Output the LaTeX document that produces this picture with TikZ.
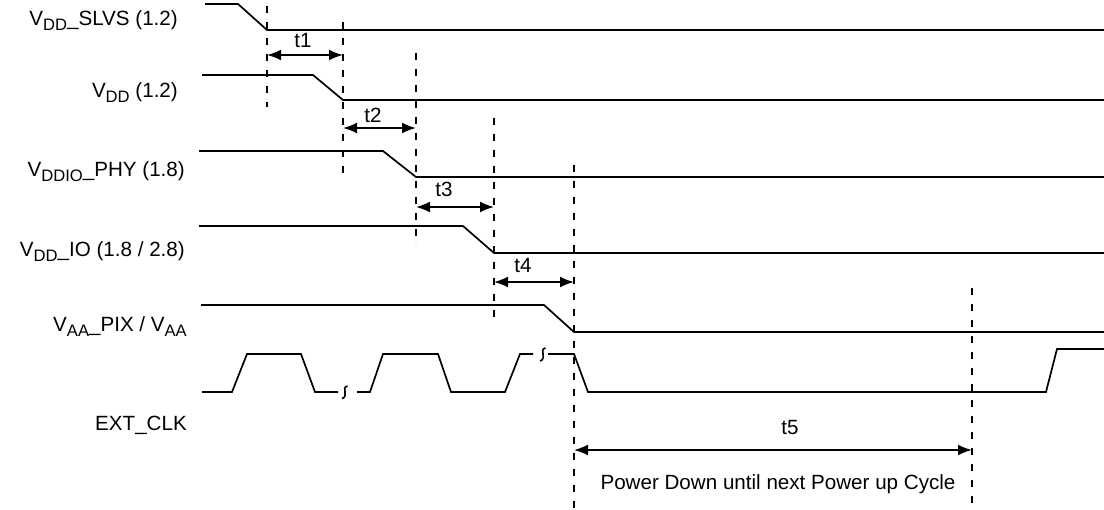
\documentclass[tikz,border=0pt]{standalone}
\usepackage{fontspec}
\setmainfont{Liberation Sans}
\usetikzlibrary{arrows.meta}
\newcommand\lsub[1]{\raisebox{-5pt}{\fontsize{16.6}{18}\selectfont #1}}
\begin{document}
\begin{tikzpicture}[x=1pt,y=-1pt,
  sig/.style={line width=1.7pt, line join=miter},
  guide/.style={line width=1.7pt, dash pattern=on 7pt off 9pt},
  span/.style={line width=1.8pt, {Latex[length=14pt,width=11pt]}-{Latex[length=14pt,width=11pt]}},
  lbl/.style={font=\fontsize{20.6}{24}\selectfont, inner sep=0pt, anchor=base east},
  tlbl/.style={font=\fontsize{20.6}{24}\selectfont, inner sep=0pt, anchor=base},
  brk/.style={line width=1.6pt}]
\useasboundingbox (0,0) rectangle (1104,510);
\fill[white] (0,0) rectangle (1104,510);

% labels
\node[lbl] (l1) at (178,26) {V\lsub{DD}\_SLVS (1.2)};
\node[lbl] (l2) at (178,98) {V\lsub{DD} (1.2)};
\node[lbl] (l3) at (185,177) {V\lsub{DDIO}\_PHY (1.8)};
\node[lbl] (l4) at (185,257) {V\lsub{DD}\_IO (1.8 / 2.8)};
\node[lbl] (l5) at (187,332) {V\lsub{AA}\_PIX / V\lsub{AA}};
\node[lbl] (l6) at (187,431) {EXT\_CLK};

% signals
\draw[sig] (205,4) -- (238,4) -- (267,30) -- (1104,30);
\draw[sig] (202,75) -- (313,75) -- (343,100) -- (1104,100);
\draw[sig] (199,151) -- (383,151) -- (416,177) -- (1104,177);
\draw[sig] (199,226) -- (463,226) -- (494,253) -- (1104,253);
\draw[sig] (201,305) -- (544,305) -- (574,332) -- (1104,332);

% clock
\draw[sig] (202,392) -- (232,392) -- (247,354) -- (301,354) -- (315,392) -- (338,392);
\draw[sig] (357,392) -- (370,392) -- (383,354) -- (438,354) -- (451,392) -- (505,392) -- (520,354) -- (533,354);
\draw[sig] (548,354) -- (574,354) -- (588,392) -- (1046,392) -- (1057,349) -- (1104,349);
\draw[brk] (342,398.5) .. controls (345.5,398) and (345.5,394) .. (345,392) .. controls (344.5,390) and (344,386.5) .. (347.5,386);
\draw[brk] (540,361) .. controls (543.5,360.5) and (543.5,356) .. (543,354) .. controls (542.5,352) and (542,348.5) .. (545.5,348);

% guide lines
\coordinate (g1a) at (267,6);   \coordinate (g1b) at (267,107);
\coordinate (g2a) at (343,22);  \coordinate (g2b) at (343,180);
\coordinate (g3a) at (416,53);  \coordinate (g3b) at (416,245);
\coordinate (g4a) at (494,118); \coordinate (g4b) at (494,325);
\coordinate (g5a) at (574,165); \coordinate (g5b) at (574,510);
\coordinate (g6a) at (972,288); \coordinate (g6b) at (972,510);
\draw[guide] (g1a) -- (g1b);
\draw[guide] (g2a) -- (g2b);
\draw[guide] (g3a) -- (g3b);
\draw[guide] (g4a) -- (g4b);
\draw[guide] (g5a) -- (g5b);
\draw[guide] (g6a) -- (g6b);

% spans
\coordinate (a1) at (267,55);  \coordinate (b1) at (343,55);
\coordinate (a2) at (343,128); \coordinate (b2) at (416,128);
\coordinate (a3) at (416,207); \coordinate (b3) at (494,207);
\coordinate (a4) at (494,282); \coordinate (b4) at (574,282);
\coordinate (a5) at (574,450); \coordinate (b5) at (972,450);
\draw[span] (a1) -- (b1);
\draw[span] (a2) -- (b2);
\draw[span] (a3) -- (b3);
\draw[span] (a4) -- (b4);
\draw[span] (a5) -- (b5);

\node[tlbl] (t1) at (303,48) {t1};
\node[tlbl] (t2) at (373,123) {t2};
\node[tlbl] (t3) at (444,197) {t3};
\node[tlbl] (t4) at (523,273) {t4};
\node[tlbl] (t5) at (790,435) {t5};
\node[tlbl] (pd) at (778,490) {Power Down until next Power up Cycle};
\end{tikzpicture}
\end{document}
